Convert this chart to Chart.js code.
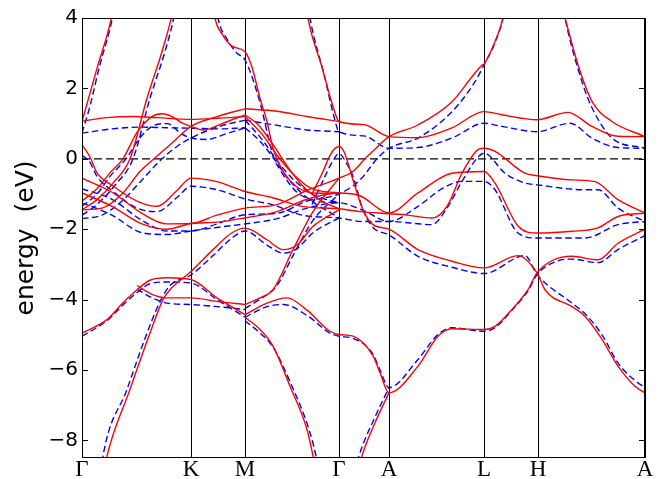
<!DOCTYPE html>
<html>
<head>
<meta charset="utf-8">
<script src="https://cdn.jsdelivr.net/npm/chart.js@4.4.1/dist/chart.umd.min.js"></script>
<style>
html, body { margin: 0; padding: 0; background: #fff; }
#wrap { width: 658px; height: 479px; }
</style>
</head>
<body>
<div id="wrap"><canvas id="bands" width="658" height="479"></canvas></div>
<script>
// k-path (distance along path) and high-symmetry labels
const kPositions = [0, 109, 163, 257, 307, 402, 456, 563];
const kLabels = ['Γ', 'K', 'M', 'Γ', 'A', 'L', 'H', 'A'];
const energyTicks = [-8, -6, -4, -2, 0, 2, 4];
const energyMin = -8.5;
const energyMax = 4;
const fermiLevel = 0;

// bands: [k, energy in eV]
const solidBands = [
    [[0,1.06],[15,2.57],[30,4.08],[33,4.6]],
    [[0,-1.45],[15,-1.16],[31,-0.69],[48,0.0],[65,1.72],[80,3.05],[90,4.1],[93,4.6]],
    [[130,4.6],[133,4.0],[140,3.55],[150,3.2],[163,3.04],[170,2.6],[178,1.72],[185,1.06],[191,0.3],[200,-0.3],[215,-0.8],[235,-0.98],[257,-0.97]],
    [[223,4.6],[226,4.0],[240,2.6],[252,1.4],[257,1.06],[282,0.97],[307,0.63],[336,0.60],[370,0.88],[402,1.34],[420,1.25],[455,1.11],[486,1.32],[510,0.92],[536,0.64],[563,0.63]],
    [[163,1.42],[195,1.35],[225,1.2],[257,1.06]],
    [[0,1.07],[25,1.17],[50,1.2],[75,1.17],[109,1.12],[135,1.15],[163,1.2]],
    [[0,-1.2],[15,-0.85],[28,-0.4],[41,0.0],[55,0.75],[70,1.2],[80,1.28],[90,1.2],[100,1.02],[109,0.92],[121,0.82],[140,1.0],[163,1.25]],
    [[0,-1.45],[20,-1.4],[40,-1.0],[58,-0.36],[72,0.0],[92,0.5],[109,0.92],[135,1.2],[163,1.42]],
    [[163,1.25],[175,1.0],[190,0.45],[205,-0.2],[220,-0.75],[240,-1.2],[257,-1.42]],
    [[163,1.2],[180,0.7],[195,0.1],[210,-0.4],[230,-0.85],[257,-0.97]],
    [[0,0.4],[8,0.05],[15,-0.4],[30,-0.75],[55,-1.2],[75,-1.35],[95,-0.9],[109,-0.55],[135,-0.65],[163,-0.93],[190,-1.1],[220,-1.35],[257,-1.42],[278,-1.5],[307,-1.56],[325,-1.6],[350,-1.68],[365,-1.35],[380,-0.41],[396,0.26],[402,0.30],[413,0.21],[443,-0.41],[455,-0.48],[490,-0.6],[513,-0.65],[536,-1.16],[563,-1.54]],
    [[0,-0.55],[30,-0.95],[60,-1.55],[85,-1.85],[109,-1.84],[135,-1.6],[163,-1.4],[195,-1.3],[225,-0.9],[257,-0.55],[271,-0.36],[283,0.0],[295,0.33],[307,0.63],[336,0.96],[370,1.62],[390,2.33],[400,2.66],[402,2.69],[413,3.33],[421,4.0],[424,4.5]],
    [[478,4.5],[483,4.0],[496,2.67],[510,1.63],[530,1.06],[563,0.63]],
    [[0,-0.97],[30,-1.35],[60,-1.85],[85,-2.0],[109,-1.84],[135,-1.8],[163,-1.68],[195,-1.5],[225,-1.15],[257,-0.97],[278,-1.05],[307,-1.54],[336,-0.97],[370,-0.41],[402,-0.36],[413,-0.69],[436,-1.91],[455,-2.11],[490,-2.06],[516,-1.96],[536,-1.64],[563,-1.54]],
    [[22,-8.9],[25,-8.44],[48,-6.55],[68,-4.95],[81,-4.0],[88,-3.72],[95,-3.53],[109,-3.2],[131,-2.58],[150,-2.1],[163,-1.97],[185,-2.3],[201,-2.58],[215,-2.45],[231,-1.92],[257,-1.45]],
    [[230,-1.0],[241,-0.36],[249,0.15],[257,0.35],[262,0.2],[271,-0.6],[281,-1.45],[291,-1.87],[307,-2.0],[336,-2.58],[370,-2.91],[402,-3.1],[436,-2.75],[455,-3.24],[463,-3.72],[490,-4.2],[503,-4.47],[520,-5.13],[536,-5.89],[553,-6.46],[563,-6.65]],
    [[163,-4.14],[178,-3.95],[191,-3.72],[211,-2.58],[231,-1.5],[257,-0.55]],
    [[0,-4.95],[25,-4.57],[41,-4.09],[55,-3.72],[68,-3.45],[85,-3.38],[109,-3.43],[135,-3.95],[163,-4.43]],
    [[55,-3.6],[70,-3.85],[85,-3.95],[109,-3.95],[135,-4.05],[163,-4.14]],
    [[163,-4.43],[185,-4.1],[205,-3.95],[225,-4.3],[248,-4.9],[257,-4.99],[271,-5.04],[291,-5.6],[298,-6.08],[307,-6.65],[336,-5.89],[356,-5.04],[370,-4.83],[402,-4.85],[413,-4.76],[430,-4.28],[446,-3.72],[455,-3.24],[490,-2.77],[516,-2.87],[536,-2.4],[563,-2.0]],
    [[163,-4.5],[178,-4.85],[191,-5.32],[208,-6.46],[225,-7.69],[231,-8.44],[234,-8.9]],
    [[276,-8.9],[280,-8.44],[293,-7.5],[307,-6.65]]
];

const dashedBands = [
    [[0,0.73],[8,1.5],[17,2.57],[31,4.08],[34,4.6]],
    [[0,-1.6],[15,-1.3],[33,-0.75],[51,0.0],[68,1.72],[83,3.05],[92,4.05],[95,4.6]],
    [[133,4.6],[136,4.0],[145,3.4],[155,3.0],[163,2.81],[178,1.6],[191,0.1],[200,-0.4],[215,-0.95],[235,-1.2],[257,-1.25]],
    [[225,4.6],[228,4.0],[242,2.4],[252,1.2],[257,0.77],[282,0.65],[307,0.30],[336,0.32],[370,0.59],[402,1.01],[420,0.92],[455,0.77],[488,1.01],[510,0.59],[536,0.32],[563,0.30]],
    [[163,1.1],[191,0.97],[225,0.82],[257,0.77]],
    [[0,0.73],[30,0.85],[60,0.9],[85,0.88],[109,0.87],[135,0.85],[163,0.88]],
    [[0,-1.35],[15,-1.0],[28,-0.5],[44,0.0],[58,0.6],[72,0.95],[85,1.0],[100,0.7],[109,0.59],[125,0.55],[145,0.72],[163,0.88]],
    [[0,-1.7],[20,-1.6],[40,-1.2],[60,-0.6],[80,0.0],[95,0.35],[109,0.59],[135,0.9],[163,1.1]],
    [[163,0.88],[178,0.5],[192,0.0],[207,-0.6],[225,-1.1],[257,-1.68]],
    [[163,1.1],[180,0.55],[195,-0.05],[210,-0.55],[230,-1.0],[257,-1.25]],
    [[0,0.1],[8,-0.1],[15,-0.5],[30,-0.9],[55,-1.4],[75,-1.5],[95,-1.1],[109,-0.78],[135,-0.88],[163,-1.14],[190,-1.3],[220,-1.6],[257,-1.68],[280,-1.78],[307,-1.78],[350,-1.87],[365,-1.4],[380,-0.64],[396,0.05],[402,0.16],[423,-0.41],[443,-0.69],[455,-0.74],[503,-0.88],[516,-0.88],[536,-1.4],[563,-1.78]],
    [[0,-0.85],[30,-1.15],[60,-1.75],[85,-2.05],[109,-2.05],[135,-1.85],[163,-1.59],[195,-1.55],[225,-1.2],[257,-1.0],[278,-0.6],[295,0.0],[307,0.30],[336,0.59],[370,1.34],[393,2.19],[402,2.67],[413,3.3],[421,4.0],[424,4.5]],
    [[480,4.5],[483,4.0],[500,2.19],[510,1.45],[530,0.59],[563,0.30]],
    [[0,-1.25],[30,-1.6],[60,-2.1],[85,-2.15],[109,-2.05],[135,-1.95],[163,-1.85],[195,-1.7],[225,-1.4],[257,-1.25],[280,-1.45],[307,-1.78],[336,-1.35],[360,-0.85],[380,-0.64],[402,-0.64],[413,-0.88],[436,-2.11],[455,-2.25],[503,-2.25],[536,-1.87],[563,-1.78]],
    [[19,-8.9],[21,-8.44],[45,-6.55],[65,-4.95],[79,-4.0],[88,-3.6],[109,-3.3],[131,-2.75],[150,-2.25],[163,-2.05],[185,-2.45],[201,-2.68],[215,-2.55],[231,-2.1],[257,-1.68]],
    [[230,-1.3],[243,-0.5],[251,-0.05],[257,0.15],[264,-0.1],[271,-0.5],[281,-1.45],[291,-1.95],[307,-2.16],[336,-2.77],[370,-3.08],[402,-3.26],[443,-2.75],[455,-3.29],[490,-4.1],[503,-4.4],[520,-5.0],[536,-5.8],[553,-6.3],[563,-6.5]],
    [[163,-4.25],[180,-3.95],[195,-3.6],[211,-2.75],[231,-1.75],[257,-1.0]],
    [[0,-5.04],[25,-4.6],[41,-4.15],[55,-3.8],[68,-3.55],[85,-3.5],[109,-3.53],[135,-4.0],[163,-4.5]],
    [[55,-3.7],[70,-3.95],[85,-4.1],[109,-4.14],[135,-4.2],[163,-4.28]],
    [[163,-4.5],[185,-4.2],[201,-4.14],[225,-4.45],[248,-4.95],[257,-5.04],[271,-5.1],[291,-5.55],[298,-6.0],[307,-6.5],[336,-5.7],[356,-4.99],[370,-4.8],[402,-4.9],[413,-4.8],[430,-4.3],[446,-3.75],[455,-3.29],[476,-2.9],[490,-2.85],[516,-2.95],[536,-2.58],[563,-2.18]],
    [[163,-4.6],[178,-4.95],[191,-5.35],[210,-6.46],[227,-7.69],[234,-8.44],[237,-8.9]],
    [[273,-8.9],[277,-8.44],[292,-7.4],[307,-6.5]]
];

function toPoints(band) {
    return band.map(p => ({ x: p[0], y: p[1] }));
}

const datasets = [];
solidBands.forEach(b => datasets.push({
    data: toPoints(b),
    borderColor: '#ff0000',
    borderWidth: 1.4,
    pointRadius: 0,
    cubicInterpolationMode: 'monotone',
    fill: false
}));
dashedBands.forEach(b => datasets.push({
    data: toPoints(b),
    borderColor: '#0000ff',
    borderWidth: 1.4,
    borderDash: [6.5, 3.5],
    pointRadius: 0,
    cubicInterpolationMode: 'monotone',
    fill: false
}));
// Fermi level
datasets.push({
    data: [{ x: kPositions[0], y: fermiLevel }, { x: kPositions[kPositions.length - 1], y: fermiLevel }],
    borderColor: '#000000',
    borderWidth: 1.2,
    borderDash: [8, 4],
    pointRadius: 0,
    fill: false
});

// frame, inward ticks and the y title
const framePlugin = {
    id: 'frame',
    afterDraw(chart) {
        const ctx = chart.ctx;
        const a = chart.chartArea;
        const y = chart.scales.y;
        ctx.save();
        ctx.strokeStyle = '#000';
        ctx.lineWidth = 1;
        ctx.strokeRect(a.left + 0.5, a.top + 0.5, a.right - a.left - 1, a.bottom - a.top - 1);
        energyTicks.forEach(v => {
            const py = Math.round(y.getPixelForValue(v)) + 0.5;
            ctx.beginPath();
            ctx.moveTo(a.left, py); ctx.lineTo(a.left + 6, py);
            ctx.moveTo(a.right, py); ctx.lineTo(a.right - 6, py);
            ctx.stroke();
        });
        ctx.translate(33, (a.top + a.bottom) / 2);
        ctx.rotate(-Math.PI / 2);
        ctx.fillStyle = '#000';
        ctx.font = '25px "DejaVu Sans"';
        ctx.textAlign = 'center';
        ctx.textBaseline = 'alphabetic';
        ctx.fillText('energy  (eV)', 0, 0);
        ctx.restore();
    }
};

new Chart(document.getElementById('bands'), {
    type: 'line',
    data: { datasets: datasets },
    options: {
        responsive: false,
        animation: false,
        devicePixelRatio: 1,
        layout: { padding: { left: 0, right: 13, top: 18, bottom: 0 } },
        plugins: { legend: { display: false }, tooltip: { enabled: false } },
        scales: {
            x: {
                type: 'linear',
                min: kPositions[0],
                max: kPositions[kPositions.length - 1],
                afterBuildTicks: s => { s.ticks = kPositions.map(v => ({ value: v })); },
                afterFit: s => { s.height = 21; },
                grid: { color: '#000', lineWidth: 1, drawTicks: false },
                border: { display: false },
                ticks: {
                    color: '#000',
                    padding: -2,
                    maxRotation: 0,
                    autoSkip: false,
                    font: { family: '"Liberation Serif"', size: 23 },
                    callback: (v, i) => kLabels[i]
                }
            },
            y: {
                min: energyMin,
                max: energyMax,
                afterBuildTicks: s => { s.ticks = energyTicks.map(v => ({ value: v })); },
                afterFit: s => { s.width = 82; },
                grid: { display: false, drawTicks: false },
                border: { display: false },
                ticks: {
                    color: '#000',
                    padding: 4,
                    font: { family: '"DejaVu Sans"', size: 20 },
                    callback: v => (v < 0 ? '\u2212' + Math.abs(v) : String(v))
                }
            }
        }
    },
    plugins: [framePlugin]
});
</script>
</body>
</html>
